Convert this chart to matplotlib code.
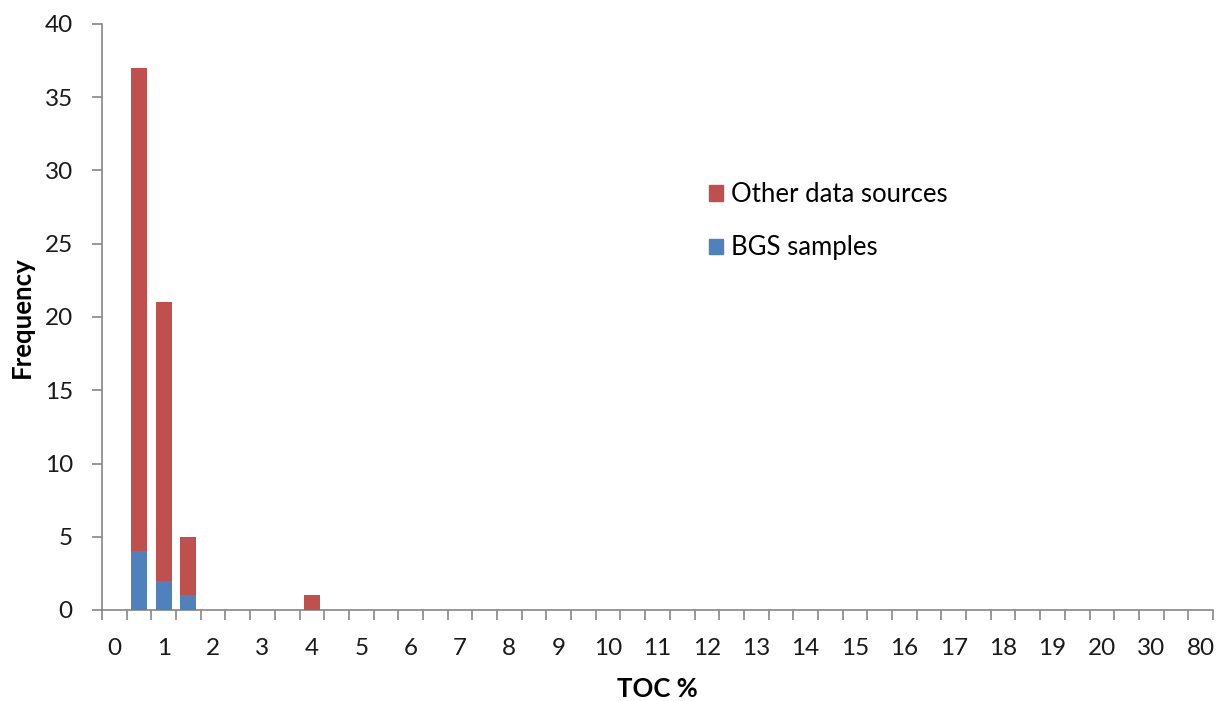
import matplotlib
matplotlib.use("Agg")
import matplotlib.pyplot as plt
from matplotlib.patches import Patch
import numpy as np

# Category labels (bin upper bounds, TOC %)
categories = [f"{v:g}" for v in np.arange(0, 20.5, 0.5)] + ["25", "30", "50", "80"]

# Frequencies per category
bgs_samples = [0, 4, 2, 1, 0, 0, 0, 0, 0, 0,
               0, 0, 0, 0, 0, 0, 0, 0, 0, 0,
               0, 0, 0, 0, 0, 0, 0, 0, 0, 0,
               0, 0, 0, 0, 0, 0, 0, 0, 0, 0,
               0, 0, 0, 0, 0]
other_sources = [0, 33, 19, 4, 0, 0, 0, 0, 1, 0,
                 0, 0, 0, 0, 0, 0, 0, 0, 0, 0,
                 0, 0, 0, 0, 0, 0, 0, 0, 0, 0,
                 0, 0, 0, 0, 0, 0, 0, 0, 0, 0,
                 0, 0, 0, 0, 0]

RED = "#C0504D"
BLUE = "#4F81BD"
GRAY = "#868686"
FONT = "Lato"
TICK_FS = 17.5
LAB_FS = 18.5
LEG_FS = 18.5

fig = plt.figure(figsize=(12.18, 7.01), dpi=100)
ax = fig.add_axes([102/1218, 1-610/701, (1213-102)/1218, (610-24)/701])

x = np.arange(len(categories))
ax.bar(x, bgs_samples, width=0.65, color=BLUE, label="BGS samples", zorder=3)
ax.bar(x, other_sources, width=0.65, bottom=bgs_samples, color=RED,
       label="Other data sources", zorder=3)

ax.set_xlim(-0.5, len(categories) - 0.5)
ax.set_ylim(0, 40)
ax.set_yticks(np.arange(0, 41, 5))

ax.set_xticks(x[::2])
ax.set_xticklabels(categories[::2])
ax.set_xticks(np.arange(-0.5, len(categories), 1), minor=True)

for s in ["top", "right"]:
    ax.spines[s].set_visible(False)
for s in ["left", "bottom"]:
    ax.spines[s].set_color(GRAY)
    ax.spines[s].set_linewidth(1.2)

ax.tick_params(axis="x", which="major", length=0, pad=20, labelsize=TICK_FS)
ax.tick_params(axis="x", which="minor", length=7, width=1.2, color=GRAY, direction="out")
ax.tick_params(axis="y", length=7, width=1.2, color=GRAY, pad=14, labelsize=TICK_FS)
for lab in ax.get_xticklabels() + ax.get_yticklabels():
    lab.set_fontfamily(FONT)
    lab.set_color("#1a1a1a")

ax.set_xlabel("TOC %", fontfamily=FONT, fontweight="bold", fontsize=LAB_FS, labelpad=13)
ax.set_ylabel("Frequency", fontfamily=FONT, fontweight="bold", fontsize=LAB_FS, labelpad=8)

handles = [Patch(color=RED, label="Other data sources"),
           Patch(color=BLUE, label="BGS samples")]
leg = ax.legend(handles=handles, loc="upper left",
                bbox_to_anchor=((686-102)/1111, 1-(159-24)/586),
                frameon=False, handlelength=0.55, handleheight=0.55, handletextpad=0.3,
                labelspacing=1.1, prop={"family": FONT, "size": LEG_FS})

fig.savefig("out.png", dpi=100)
